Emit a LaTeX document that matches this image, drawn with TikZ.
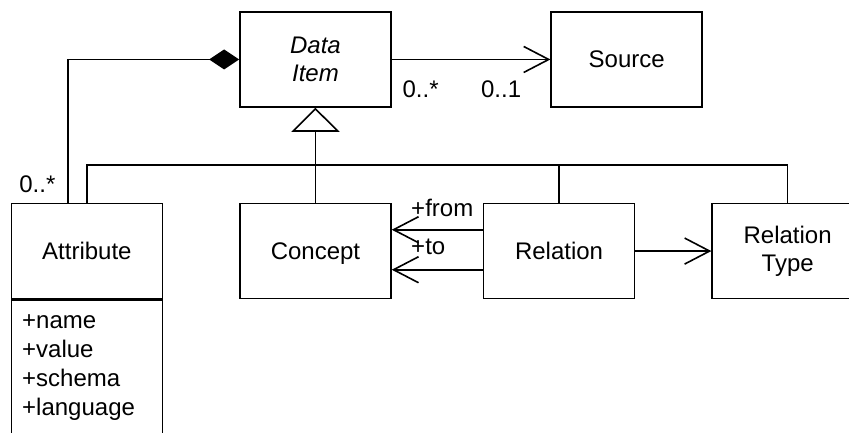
\documentclass[tikz,border=0pt]{standalone}
\usepackage{fontspec}
\setmainfont{Liberation Sans}
\usetikzlibrary{positioning,arrows.meta}
\newcommand\umlfont{\fontsize{18}{21}\selectfont}
\tikzset{classbox/.style={draw,line width=1.2pt,minimum width=113.25pt,minimum height=71.25pt,align=center,font=\umlfont},listbox/.style={draw,line width=1.2pt,minimum width=113.25pt,inner xsep=8pt,inner ysep=11pt,font=\fontsize{18}{21.75}\selectfont},wire/.style={draw,line width=1.2pt},assoc/.style={wire,-{Straight Barb[length=18.75pt,width=19.5pt]}},compose/.style={wire,-{Diamond[length=22.5pt,width=15pt]}},inherit/.style={wire,-{Triangle[open,length=18pt,width=36pt,fill=white]}},mult/.style={inner sep=0pt,font=\umlfont}}

\begin{document}
\begin{tikzpicture}
\path[use as bounding box,clip] (0,0) rectangle (636.75pt,-324pt);
\node[classbox] (data) at (236.6pt,-44.6pt) {\textit{Data}\\\textit{Item}};
\node[classbox,right=119pt of data] (source) {Source};
\node[classbox,below=71.25pt of data,text depth=0pt] (concept) {Concept};
\node[classbox,right=68.25pt of concept] (relation) {Relation};
\node[classbox,right=57pt of relation] (reltype) {Relation\\Type};
\node[classbox,left=57pt of concept] (attr) {Attribute};
\node[listbox,below=0pt of attr] (attrlist) {\parbox[t][140pt][t]{97pt}{+name\\+value\\+schema\\+language}};
% generalisation tree
\coordinate (bus) at ([yshift=28.5pt]concept.north);
\draw[inherit] (concept) -- (data);
\draw[wire] (attr.north) |- (bus) -| (reltype.north);
\draw[wire] (relation.north) -- (relation.north |- bus);
% associations
\draw[compose] ([xshift=-14pt]attr.north) |- (data.west) node[pos=0,mult,above left=6.75pt and 9pt] {0..*};
\draw[assoc] (data) -- (source) node[pos=0,mult,below right=15pt and 7.5pt] {0..*} node[pos=1,mult,below left=15pt and 21.4pt] {0..1};
\draw[assoc] ([yshift=16pt]relation.west) -- ([yshift=16pt]concept.east) node[pos=1,mult,above right=9pt and 14pt] {+from};
\draw[assoc] ([yshift=-14pt]relation.west) -- ([yshift=-14pt]concept.east) node[pos=1,mult,above right=10.5pt and 14pt] {+to};
\draw[assoc] (relation) -- (reltype);
\end{tikzpicture}
\end{document}
